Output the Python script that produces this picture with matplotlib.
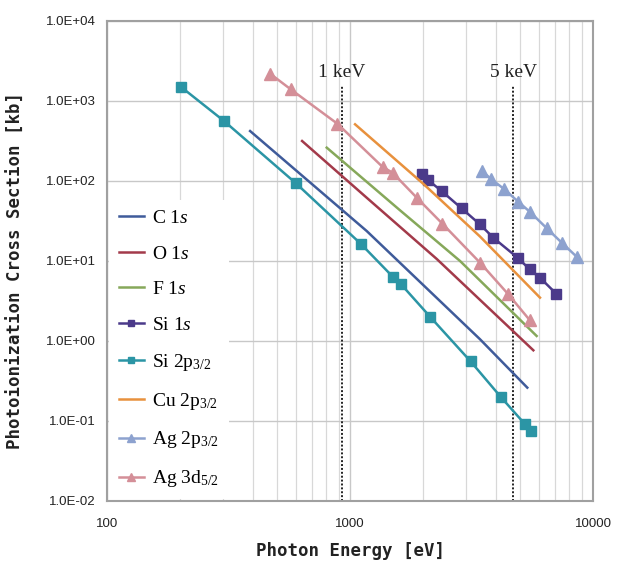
import math

import matplotlib
matplotlib.use("Agg")
import matplotlib.pyplot as plt
from matplotlib.ticker import FixedLocator, LogLocator, NullFormatter, FuncFormatter

plt.rcParams["mathtext.fontset"] = "custom"
plt.rcParams["mathtext.rm"] = "Liberation Serif"
plt.rcParams["mathtext.it"] = "Liberation Serif:italic"

# photon energy [eV] / cross section [kb]
c1s_e = [388, 1171, 3428, 5364]
c1s_s = [421, 23.7, 1.05, 0.261]

o1s_e = [635, 1171, 2274, 5680]
o1s_s = [316, 61.8, 10.6, 0.765]

f1s_e = [802, 1606, 2836, 5860]
f1s_s = [261, 43, 10, 1.155]

si1s_e = [1979, 2084, 2380, 2882, 3428, 3888, 4926, 5483, 6050, 7042]
si1s_s = [122, 104, 75, 45.3, 28.6, 19.5, 10.8, 7.87, 6.18, 3.92]

si2p_e = [201, 303, 599, 1107, 1498, 1622, 2138, 3138, 4170, 5250, 5540]
si2p_s = [1510, 562, 93.6, 16.4, 6.37, 5.11, 2.0, 0.554, 0.2, 0.091, 0.076]

cu2p_e = [1049, 2006, 3428, 6050]
cu2p_s = [511, 91.7, 20.2, 3.48]

ag2p_e = [3494, 3803, 4302, 4935, 5504, 6436, 7454, 8590]
ag2p_s = [133, 106, 79.4, 54.7, 41.0, 25.8, 16.8, 11.2]

ag3d_e = [469, 570, 887, 1361, 1496, 1881, 2395, 3428, 4481, 5483]
ag3d_s = [2193, 1400, 520, 150, 127, 61.9, 29.4, 9.52, 3.83, 1.83]

kev_pos = [923, 4699]
kev_text = ["1 keV", "5 keV"]

fig = plt.figure(figsize=(6.2, 5.61), dpi=100)
ax = fig.add_axes([0.1726, 0.107, 0.7839, 0.8556])

lw = 1.8
ax.plot(c1s_e, c1s_s, color="#3F5B9A", lw=lw, label=r"C 1$\mathit{s}$")
ax.plot(o1s_e, o1s_s, color="#A33A4A", lw=lw, label=r"O 1$\mathit{s}$")
ax.plot(f1s_e, f1s_s, color="#86A85A", lw=lw, label=r"F 1$\mathit{s}$")
ax.plot(si1s_e, si1s_s, color="#4B3A8A", lw=lw, marker="s", ms=7,
        label=r"Si 1$\mathit{s}$")
ax.plot(si2p_e, si2p_s, color="#2B95A5", lw=lw, marker="s", ms=7,
        label=r"Si 2p$_{\mathrm{3/2}}$")
ax.plot(cu2p_e, cu2p_s, color="#E8913D", lw=lw, label=r"Cu 2p$_{\mathrm{3/2}}$")
ax.plot(ag2p_e, ag2p_s, color="#8DA2CF", lw=lw, marker="^", ms=8.5,
        label=r"Ag 2p$_{\mathrm{3/2}}$")
ax.plot(ag3d_e, ag3d_s, color="#D48F98", lw=lw, marker="^", ms=8.5,
        label=r"Ag 3d$_{\mathrm{5/2}}$")

ax.set_xscale("log")
ax.set_yscale("log")
ax.set_xlim(100, 10000)
ax.set_ylim(1e-2, 1e4)

# 1 keV / 5 keV markers
for e, t in zip(kev_pos, kev_text):
    ax.axvline(e, ymax=0.866, color="#222222", lw=1.4, ls=(0, (1, 1)), zorder=1.5)
    ax.text(e, 2.3e3, t, ha="center", va="center", fontsize=14,
            family="Liberation Serif", color="#222222")

ax.xaxis.set_major_locator(FixedLocator([100, 1000, 10000]))
ax.xaxis.set_minor_locator(LogLocator(base=10, subs=range(2, 10), numticks=20))
ax.xaxis.set_minor_formatter(NullFormatter())
ax.xaxis.set_major_formatter(FuncFormatter(lambda v, p: f"{int(round(v))}"))
ax.yaxis.set_major_locator(FixedLocator([10.0 ** k for k in range(-2, 5)]))
ax.yaxis.set_minor_locator(FixedLocator([]))
ax.yaxis.set_major_formatter(FuncFormatter(
    lambda v, p: "1.0E{:+03d}".format(int(round(math.log10(v))))))

ax.grid(True, which="major", color="#C8C8C8", lw=1.0)
ax.grid(True, which="minor", axis="x", color="#D8D8D8", lw=0.9)
ax.set_axisbelow(True)
ax.tick_params(axis="y", which="both", length=0, labelsize=9.5, pad=8)
ax.tick_params(axis="x", which="both", length=0, labelsize=9.5, pad=12)
for lab in ax.get_xticklabels() + ax.get_yticklabels():
    lab.set_family("Liberation Sans")
    lab.set_color("#222222")
for s in ax.spines.values():
    s.set_color("#A0A0A0")
    s.set_linewidth(1.5)

ax.set_xlabel("Photon Energy [eV]", family="DejaVu Sans Mono", fontweight="bold",
              fontsize=12.5, labelpad=9, color="#222222")
ax.set_ylabel("Photoionization Cross Section [kb]", family="DejaVu Sans Mono",
              fontweight="bold", fontsize=12.5, color="#222222")
ax.yaxis.set_label_coords(-0.168, 0.48)

leg = ax.legend(loc="lower left", bbox_to_anchor=(0.0, 0.0), borderaxespad=0.1,
                prop={"family": "Liberation Serif", "size": 14},
                frameon=True, fancybox=False, framealpha=1.0, edgecolor="none",
                facecolor="white", handlelength=1.3, handletextpad=0.4,
                labelspacing=0.92, markerscale=0.6, borderpad=0.5)

fig.savefig("out.png", dpi=100)
